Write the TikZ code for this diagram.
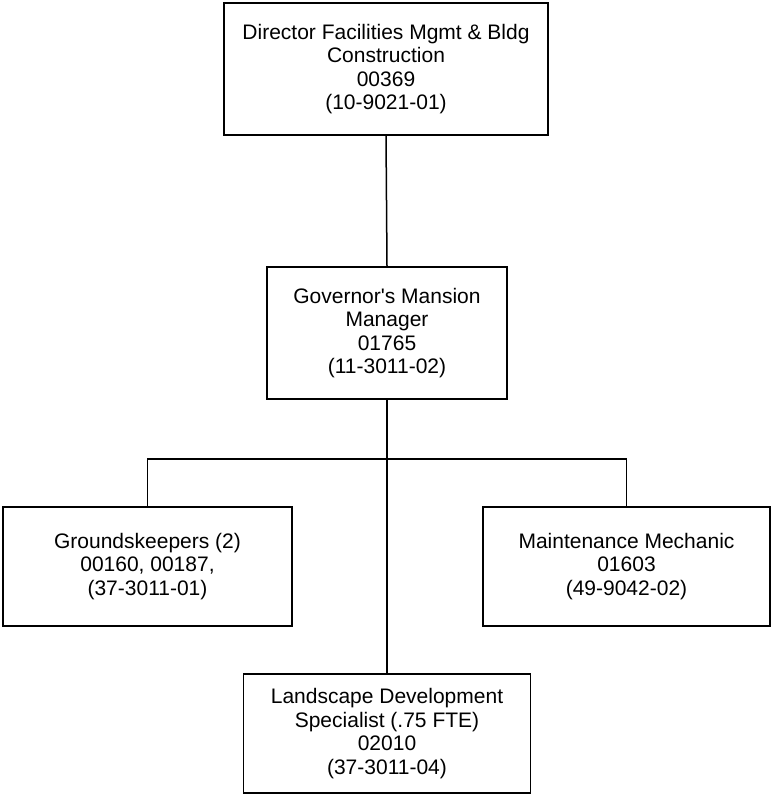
\documentclass[tikz,border=0pt]{standalone}
\usepackage{fontspec}
\defaultfontfeatures[\rmfamily,\sffamily]{}
\setmainfont{Liberation Sans}
\begin{document}
\begin{tikzpicture}[x=1pt,y=-1pt,
  posbox/.style={draw, line width=1.5pt, align=center, inner sep=0pt,
    font=\fontsize{21}{23.5}\selectfont},
  link/.style={line width=1.5pt}]
\useasboundingbox (0,0) rectangle (771,794);
% boxes
\node[posbox, minimum width=324pt, minimum height=132pt] (dir) at (386,69)
  {Director Facilities Mgmt \& Bldg\\Construction\\00369\\(10-9021-01)};
\node[posbox, minimum width=240pt, minimum height=132pt] (mgr) at (387,333)
  {Governor's Mansion\\Manager\\01765\\(11-3011-02)};
\node[posbox, minimum width=289pt, minimum height=119pt] (grd) at (147.5,566.5)
  {Groundskeepers (2)\\00160, 00187,\\(37-3011-01)};
\node[posbox, minimum width=287pt, minimum height=119pt] (mech) at (626.5,566.5)
  {Maintenance Mechanic\\01603\\(49-9042-02)};
\node[posbox, minimum width=287pt, minimum height=119pt] (land) at (387,733.5)
  {Landscape Development\\Specialist (.75 FTE)\\02010\\(37-3011-04)};
% connectors
\coordinate (bus) at (387,459);
\draw[link] (dir.south) -- (mgr.north);
\draw[link] (mgr.south) -- (land.north);
\draw[link] (grd.north) |- (bus) -| (mech.north);
\end{tikzpicture}
\end{document}
